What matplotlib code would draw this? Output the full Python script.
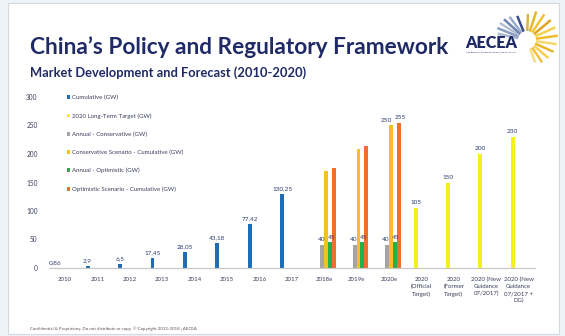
import numpy as np
import matplotlib
matplotlib.use("Agg")
import matplotlib.pyplot as plt
from matplotlib.patches import Rectangle, Patch
from matplotlib.lines import Line2D

plt.rcParams['font.family'] = ['Lato', 'DejaVu Sans']

W, H = 565, 336
NAN = np.nan

categories = ["2010", "2011", "2012", "2013", "2014", "2015", "2016", "2017",
              "2018e", "2019e", "2020e",
              "2020\n(Official\nTarget)", "2020\n(Former\nTarget)",
              "2020 (New\nGuidance\n07/2017)", "2020 (New\nGuidance\n07/2017 +\nDG)"]
cumulative = [0.86, 2.9, 6.5, 17.45, 28.05, 43.18, 77.42, 130.25] + [NAN] * 7
target = [NAN] * 11 + [105, 150, 200, 230]
annual_cons = [NAN] * 8 + [40, 40, 40] + [NAN] * 4
cons_cum = [NAN] * 8 + [170, 209, 250] + [NAN] * 4
annual_opt = [NAN] * 8 + [45, 45, 45] + [NAN] * 4
opt_cum = [NAN] * 8 + [175, 214, 255] + [NAN] * 4

# name, values, colour, which points get a label, label x-shift (pt)
series = [
    ("Cumulative (GW)", cumulative, "#1f6db5", range(0, 8), 0),
    ("2020 Long-Term Target (GW)", target, "#f4f01e", range(11, 15), 0),
    ("Annual - Conservative (GW)", annual_cons, "#a5a5a5", range(8, 11), -0.8),
    ("Conservative Scenario - Cumulative (GW)", cons_cum, "#f5c021", [10], -3),
    ("Annual - Optimistic (GW)", annual_opt, "#22b24c", range(8, 11), 0.8),
    ("Optimistic Scenario - Cumulative (GW)", opt_cum, "#ef6f2e", [10], 1),
]

navy = "#1f2a66"
label_col = "#2b3a6e"


def px(x, y):
    return x / W, 1 - y / H


def fit_text(t, width_px):
    r = fig.canvas.get_renderer()
    w = t.get_window_extent(r).width
    t.set_fontsize(t.get_fontsize() * width_px / w)


fig = plt.figure(figsize=(W / 100, H / 100), dpi=100)
fig.patch.set_facecolor("#eef3f9")
fig.add_artist(Rectangle(px(8, 334), 551 / W, 331 / H, transform=fig.transFigure,
                         facecolor="white", edgecolor="#d5d9de", lw=0.8, zorder=0))

# titles
t = fig.text(*px(30, 54), "China\u2019s Policy and Regulatory Framework", color=navy,
             fontsize=20, fontweight="bold", va="baseline")
fit_text(t, 418)
t = fig.text(*px(30, 77), "Market Development and Forecast (2010-2020)", color=navy,
             fontsize=10, fontweight="bold", va="baseline")
fit_text(t, 275)
t = fig.text(*px(30, 329), "Confidential & Proprietary. Do not distribute or copy. \u00a9 Copyright 2012-2018 | AECEA",
             color="#555555", fontsize=3, va="center")
fit_text(t, 163)

# logo
t = fig.text(*px(465, 48), "AECEA", color=navy, fontsize=10, fontweight="heavy", va="baseline")
fit_text(t, 52)
t = fig.text(*px(466, 52.5), "Asia Europe Clean Energy (Solar) Advisory Co. Ltd.", color=navy,
             fontsize=2, va="center")
fit_text(t, 50)
cx, cy = 527, 40
rays = [(168, 9, 30, "#a9b8d0"), (158, 9, 32, "#8a9dc0"), (148, 9, 32, "#b2c0d6"),
        (138, 9, 31, "#6f84b0"), (127, 9, 29, "#9aaccb"), (112, 9, 26, "#3a4f8a"),
        (88, 9, 26, "#d9b545"), (72, 9, 30, "#e8b828"), (56, 9, 31, "#f2c434"),
        (40, 9, 31, "#dca420"), (24, 9, 31, "#f5d050"), (8, 9, 31, "#f0bc2c"),
        (-8, 9, 30, "#f5d86a"), (-24, 9, 29, "#e8b428"), (-40, 9, 28, "#f5d050"),
        (-56, 9, 27, "#f0c040"), (-70, 9, 24, "#f7dc80")]
for ang, r0, r1, col in rays:
    a = np.deg2rad(ang)
    x0, y0 = cx + r0 * np.cos(a), cy - r0 * np.sin(a)
    x1, y1 = cx + r1 * np.cos(a), cy - r1 * np.sin(a)
    fig.add_artist(Line2D([x0 / W, x1 / W], [1 - y0 / H, 1 - y1 / H],
                          transform=fig.transFigure, color=col, lw=1.8,
                          solid_capstyle="butt"))

# chart
left, right = 48.8, 534.8
ax = fig.add_axes([left / W, 1 - 268 / H, (right - left) / W, (268 - 97) / H])
ax.set_facecolor("none")
x = np.arange(len(categories))
w = 0.12
handles = []
for i, (name, vals, col, lab_idx, dx) in enumerate(series):
    vals = np.array(vals, dtype=float)
    off = (i - 2.5) * w
    m = ~np.isnan(vals)
    ax.bar(x[m] + off, vals[m], width=w, color=col, zorder=2)
    for j in lab_idx:
        ax.annotate(f"{vals[j]:g}".replace(".", ","), (x[j] + off, vals[j]),
                    xytext=(dx, 2), textcoords="offset points", ha="center", va="bottom",
                    fontsize=4.6, color=label_col)
    handles.append(Patch(facecolor=col, label=name))

ax.set_xlim(-0.5, 14.5)
ax.set_ylim(0, 300)
ax.set_yticks(range(0, 301, 50))
ax.set_xticks(x)
ax.set_xticklabels(categories, fontsize=4.4, color="#3a3f5c", linespacing=1.45, va="top")
ax.tick_params(axis="y", length=0, pad=8, labelsize=4.7, labelcolor="#3a3f5c")
ax.tick_params(axis="x", length=0, pad=6.5)
for s in ["left", "right", "top"]:
    ax.spines[s].set_visible(False)
ax.spines["bottom"].set_color("#c8c8c8")
ax.spines["bottom"].set_linewidth(0.9)

leg = ax.legend(handles=handles, loc="upper left", bbox_to_anchor=px(67, 95),
                bbox_transform=fig.transFigure, frameon=False, fontsize=4.4,
                handlelength=0.55, handleheight=0.55, handletextpad=0.3,
                labelspacing=2.1, borderpad=0, borderaxespad=0)
for txt in leg.get_texts():
    txt.set_color("#3a3f5c")

fig.savefig("out.png", dpi=100)
